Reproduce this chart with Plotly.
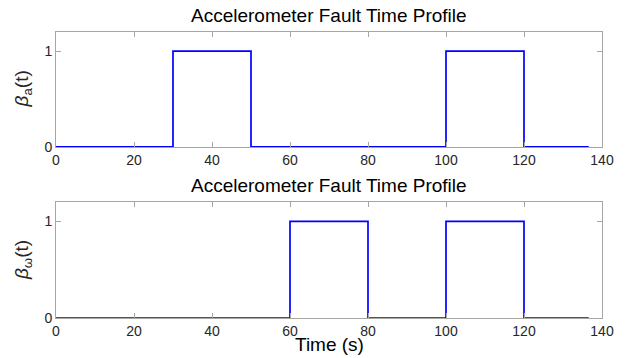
import plotly.graph_objects as go

# Fault time profiles (step signals)
time_a = [0, 30, 50, 100, 120, 136.6]
beta_a = [0, 1, 0, 1, 0, 0]
time_w = [0, 60, 80, 100, 120, 136.6]
beta_w = [0, 1, 0, 1, 0, 0]
x_ticks = [0, 20, 40, 60, 80, 100, 120, 140]
y_ticks = [0, 1]
title_text = "Accelerometer Fault Time Profile"

FONT = "Liberation Sans, Arial, Helvetica, sans-serif"
TXT = "#262626"
FRAME = "#a6a6a6"

fig = go.Figure()
fig.add_trace(go.Scatter(x=time_a, y=beta_a, mode="lines", line_shape="hv",
                         line=dict(color="#0000ff", width=1.7), xaxis="x", yaxis="y",
                         showlegend=False))
fig.add_trace(go.Scatter(x=time_w, y=beta_w, mode="lines", line_shape="hv",
                         line=dict(color="#0000ff", width=1.7), xaxis="x2", yaxis="y2",
                         showlegend=False))

axcommon = dict(showline=True, linecolor=FRAME, linewidth=1, mirror="ticks",
                ticks="inside", ticklen=5, tickcolor=FRAME, showgrid=False,
                zeroline=False, automargin=False,
                tickfont=dict(family=FONT, size=14, color=TXT))

# page has an 8px body margin: figure sized to fit the window exactly
W, H = 621, 350
ML, MR, MT, MB = 47.5, 26.5, 24, 39.7
plot_h = H - MT - MB
TOP_DOM = [(plot_h - (147 - 32)) / plot_h, 1]
BOT_DOM = [0, (318.3 - 202.3) / plot_h]

fig.update_layout(
    width=W, height=H,
    margin=dict(l=ML, r=MR, t=MT, b=MB, pad=0),
    plot_bgcolor="white", paper_bgcolor="white",
    xaxis=dict(domain=[0, 1], range=[0, 140], tickvals=x_ticks, anchor="y", **axcommon),
    yaxis=dict(domain=TOP_DOM, range=[0, 1.2], tickvals=y_ticks, anchor="x", **axcommon),
    xaxis2=dict(domain=[0, 1], range=[0, 140], tickvals=x_ticks, anchor="y2", **axcommon),
    yaxis2=dict(domain=BOT_DOM, range=[0, 1.2], tickvals=y_ticks, anchor="x2", **axcommon),
    annotations=[
        dict(text=title_text, xref="paper", yref="paper", x=0.5, y=TOP_DOM[1],
             xanchor="center", yanchor="bottom", yshift=4, showarrow=False,
             font=dict(family=FONT, size=19, color="black")),
        dict(text=title_text, xref="paper", yref="paper", x=0.5, y=BOT_DOM[1],
             xanchor="center", yanchor="bottom", yshift=4, showarrow=False,
             font=dict(family=FONT, size=19, color="black")),
        dict(text="Time (s)", xref="paper", yref="paper", x=0.5, y=BOT_DOM[0],
             xanchor="center", yanchor="top", yshift=-14, showarrow=False,
             font=dict(family=FONT, size=19, color="black")),
        dict(text="<i>β</i><sub>a</sub>(t)", xref="paper", yref="paper",
             x=0, xshift=-33, xanchor="center", yanchor="middle",
             y=(TOP_DOM[0] + TOP_DOM[1]) / 2, textangle=-90,
             showarrow=False, font=dict(family=FONT, size=19, color=TXT)),
        dict(text="<i>β</i><sub>ω</sub>(t)", xref="paper", yref="paper",
             x=0, xshift=-33, xanchor="center", yanchor="middle",
             y=(BOT_DOM[0] + BOT_DOM[1]) / 2, textangle=-90,
             showarrow=False, font=dict(family=FONT, size=19, color=TXT)),
    ],
)

fig.write_html("out.html")
